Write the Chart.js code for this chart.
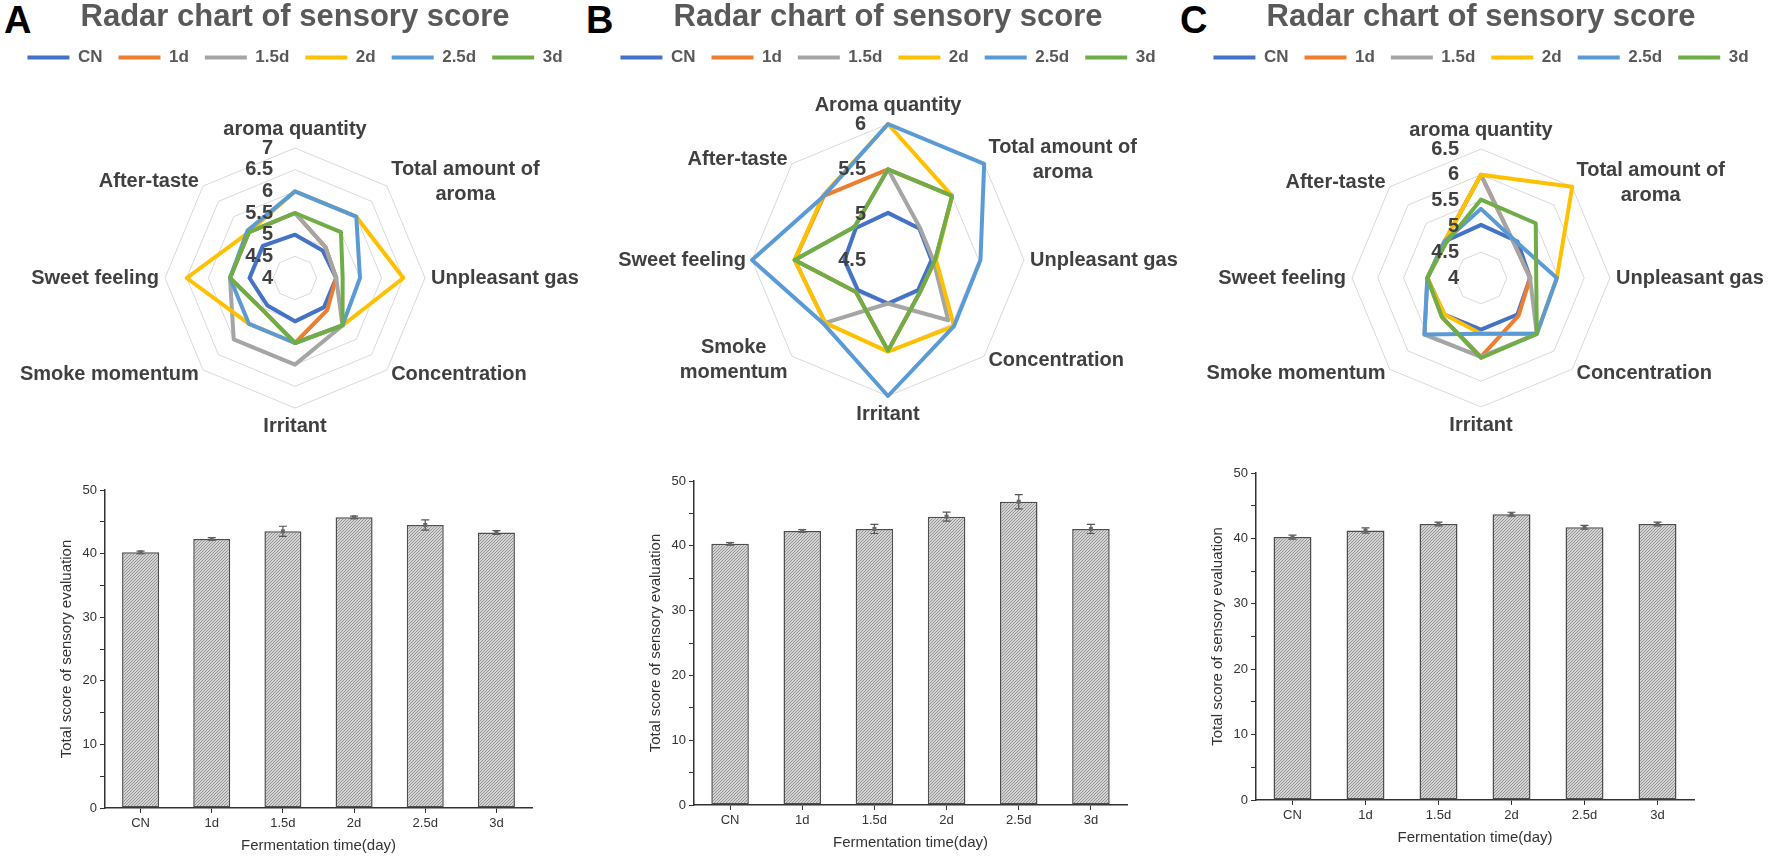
<!DOCTYPE html>
<html>
<head>
<meta charset="utf-8">
<script src="https://cdn.jsdelivr.net/npm/chart.js@4.4.1/dist/chart.umd.min.js"></script>
<style>
  html, body { margin: 0; padding: 0; background: #fff; }
  #fig { position: relative; width: 1772px; height: 859px; overflow: hidden; background: #fff; }
  .letter { position: absolute; font: bold 38px Arial, "Liberation Sans", sans-serif; line-height: 38px; color: #000; }
  canvas { position: absolute; }
</style>
</head>
<body>
<div id="fig">
  <div class="letter" style="left:4px;top:1px">A</div>
  <div class="letter" style="left:586px;top:1px">B</div>
  <div class="letter" style="left:1180px;top:1px">C</div>
  <canvas id="radarA"></canvas>
  <canvas id="radarB"></canvas>
  <canvas id="radarC"></canvas>
  <canvas id="barA"></canvas>
  <canvas id="barB"></canvas>
  <canvas id="barC"></canvas>
</div>
<script>
// groups (fermentation time) and attributes
const groups = ['CN', '1d', '1.5d', '2d', '2.5d', '3d'];
const groupColors = ['#4472C4', '#ED7D31', '#A5A5A5', '#FFC000', '#5B9BD5', '#70AD47'];

const labelsA = ['aroma quantity', ['Total amount of', 'aroma'], 'Unpleasant gas', 'Concentration', 'Irritant', 'Smoke momentum', 'Sweet feeling', 'After-taste'];
const labelsB = ['Aroma quantity', ['Total amount of', 'aroma'], 'Unpleasant gas', 'Concentration', 'Irritant', ['Smoke', 'momentum'], 'Sweet feeling', 'After-taste'];
const labelsC = ['aroma quantity', ['Total amount of', 'aroma'], 'Unpleasant gas', 'Concentration', 'Irritant', 'Smoke momentum', 'Sweet feeling', 'After-taste'];

// radar scores, one row per group (CN, 1d, 1.5d, 2d, 2.5d, 3d)
const radarA = [
  [5.0, 4.9, 4.95, 4.95, 5.0, 4.9, 5.05, 5.05],
  [5.5, 5.0, 4.95, 5.05, 5.5, 5.05, 5.5, 5.5],
  [5.5, 5.0, 4.95, 5.55, 6.0, 6.0, 5.5, 5.5],
  [6.0, 6.0, 6.5, 5.55, 5.5, 5.5, 6.5, 5.5],
  [6.0, 6.0, 5.5, 5.55, 5.5, 5.5, 5.5, 5.55],
  [5.5, 5.5, 5.1, 5.55, 5.5, 5.05, 5.5, 5.5]
];
const radarB = [
  [5.02, 4.99, 4.98, 4.97, 4.98, 4.97, 4.98, 5.0],
  [5.5, 5.5, 5.02, 5.0, 5.5, 5.0, 5.53, 5.5],
  [5.5, 5.0, 5.0, 5.44, 4.98, 5.48, 5.53, 5.02],
  [6.0, 5.5, 5.03, 5.53, 5.51, 5.48, 5.53, 5.51],
  [6.0, 6.0, 5.52, 5.53, 6.0, 5.5, 6.0, 5.5],
  [5.5, 5.5, 5.02, 5.0, 5.5, 5.0, 5.53, 5.02]
];
const radarC = [
  [5.03, 5.0, 4.95, 5.0, 5.0, 5.0, 5.04, 5.0],
  [6.0, 4.92, 4.95, 5.03, 5.53, 5.07, 5.04, 5.0],
  [6.0, 4.92, 4.95, 5.53, 5.53, 5.55, 5.04, 5.0],
  [6.0, 6.5, 5.47, 5.53, 5.08, 5.0, 5.04, 5.0],
  [5.34, 4.98, 5.47, 5.53, 5.08, 5.55, 5.04, 5.0],
  [5.52, 5.5, 5.07, 5.53, 5.55, 5.07, 5.04, 4.96]
];

// total sensory scores and error
const totalA = [40.2, 42.3, 43.5, 45.7, 44.5, 43.3];
const errA = [0.2, 0.2, 0.8, 0.2, 0.8, 0.3];
const totalB = [40.3, 42.3, 42.6, 44.5, 46.8, 42.6];
const errB = [0.2, 0.2, 0.7, 0.7, 1.1, 0.7];
const totalC = [40.2, 41.2, 42.2, 43.7, 41.7, 42.2];
const errC = [0.3, 0.4, 0.3, 0.3, 0.3, 0.3];

Chart.defaults.font.family = 'Arial, "Liberation Sans", sans-serif';
Chart.defaults.animation = false;

function place(id, left, top, w, h) {
  const c = document.getElementById(id);
  c.width = w;
  c.height = h;
  c.style.left = left + 'px';
  c.style.top = top + 'px';
  return c;
}

// extra room under the legend
const legendGap = {
  id: 'legendGap',
  beforeInit(chart, args, opts) {
    const fit = chart.legend.fit;
    chart.legend.fit = function () {
      fit.bind(chart.legend)();
      this.height += opts.gap || 0;
    };
  }
};

// axis names and tick values like the excel radar
const radarText = {
  id: 'radarText',
  afterDatasetsDraw(chart, args, opts) {
    const r = chart.scales.r;
    const ctx = chart.ctx;
    const lh = 25;
    ctx.save();
    ctx.fillStyle = '#404040';
    ctx.font = 'bold 20px Arial, "Liberation Sans", sans-serif';
    ctx.textBaseline = 'middle';
    ctx.textAlign = 'center';
    chart.data.labels.forEach((label, i) => {
      const lines = [].concat(label);
      const p = r.getPointPosition(i, r.drawingArea + 6);
      const a = r.getIndexAngle(i);
      const sx = Math.sin(a), sy = -Math.cos(a);
      const w = Math.max(...lines.map(t => ctx.measureText(t).width));
      const h = lines.length * lh;
      let left = p.x - w / 2;
      if (sx > 0.1) left = p.x;
      else if (sx < -0.1) left = p.x - w;
      let top = p.y - h / 2;
      if (sy < -0.9) top = p.y - h;
      else if (sy > 0.9) top = p.y;
      lines.forEach((t, k) => ctx.fillText(t, left + w / 2, top + lh * (k + 0.5)));
    });
    ctx.textAlign = 'right';
    r.ticks.forEach(t => {
      const y = r.yCenter - r.getDistanceFromCenterForValue(t.value);
      ctx.fillText(String(t.value), r.xCenter - 22, y);
    });
    ctx.restore();
  }
};

function radarChart(id, labels, rows, min, max, gap, bottom) {
  return new Chart(document.getElementById(id), {
    type: 'radar',
    data: {
      labels: labels,
      datasets: groups.map((g, k) => ({
        label: g,
        data: rows[k],
        borderColor: groupColors[k],
        backgroundColor: groupColors[k],
        borderWidth: 4,
        borderJoinStyle: 'round',
        pointRadius: 0,
        fill: false,
        order: groups.length - k
      }))
    },
    options: {
      responsive: false,
      layout: { padding: { bottom: bottom } },
      scales: {
        r: {
          min: min,
          max: max,
          ticks: { stepSize: 0.5, display: false },
          pointLabels: { display: false },
          grid: { color: '#d9d9d9', lineWidth: 1 },
          angleLines: { display: false }
        }
      },
      plugins: {
        title: {
          display: true,
          text: 'Radar chart of sensory score',
          color: '#595959',
          font: { size: 31, weight: 'bold', lineHeight: 1 },
          padding: { top: 2, bottom: 0 }
        },
        legend: {
          position: 'top',
          labels: {
            usePointStyle: true,
            pointStyle: 'line',
            pointStyleWidth: 42,
            color: '#595959',
            font: { size: 17, weight: 'bold' },
            padding: 16,
            sort: (a, b) => a.datasetIndex - b.datasetIndex
          }
        },
        legendGap: { gap: gap },
        tooltip: { enabled: false }
      }
    },
    plugins: [legendGap, radarText]
  });
}

// hatched fill of the bars
function hatch() {
  const c = document.createElement('canvas');
  c.width = 3;
  c.height = 3;
  const g = c.getContext('2d');
  g.fillStyle = '#d4d4d4';
  g.fillRect(0, 0, 3, 3);
  g.strokeStyle = '#8c8c8c';
  g.lineWidth = 0.9;
  g.beginPath();
  g.moveTo(0, 3); g.lineTo(3, 0);
  g.moveTo(-1, 1); g.lineTo(1, -1);
  g.moveTo(2, 4); g.lineTo(4, 2);
  g.stroke();
  return g.createPattern(c, 'repeat');
}

const errorBars = {
  id: 'errorBars',
  afterDatasetsDraw(chart, args, opts) {
    const ctx = chart.ctx;
    const y = chart.scales.y;
    const vals = chart.data.datasets[0].data;
    ctx.save();
    ctx.strokeStyle = '#555';
    ctx.fillStyle = '#666';
    ctx.lineWidth = 1.2;
    chart.getDatasetMeta(0).data.forEach((bar, i) => {
      const hi = y.getPixelForValue(vals[i] + opts.values[i]);
      const lo = y.getPixelForValue(vals[i] - opts.values[i]);
      const mid = y.getPixelForValue(vals[i]);
      ctx.beginPath();
      ctx.moveTo(bar.x, hi); ctx.lineTo(bar.x, lo);
      ctx.moveTo(bar.x - 4, hi); ctx.lineTo(bar.x + 4, hi);
      ctx.moveTo(bar.x - 4, lo); ctx.lineTo(bar.x + 4, lo);
      ctx.stroke();
      ctx.fillRect(bar.x - 2, mid - 2, 4, 4);
    });
    ctx.restore();
  }
};

function barChart(id, values, errs) {
  const axisColor = '#333';
  return new Chart(document.getElementById(id), {
    type: 'bar',
    data: {
      labels: groups,
      datasets: [{
        data: values,
        backgroundColor: hatch(),
        borderColor: '#4d4d4d',
        borderWidth: 1.5,
        borderSkipped: false,
        barPercentage: 0.52,
        categoryPercentage: 1
      }]
    },
    options: {
      responsive: false,
      layout: { padding: { top: 12, right: 18, bottom: 0, left: 0 } },
      plugins: {
        legend: { display: false },
        tooltip: { enabled: false },
        errorBars: { values: errs }
      },
      scales: {
        x: {
          grid: { drawOnChartArea: false, offset: false, tickLength: 5, color: axisColor },
          border: { color: axisColor, width: 1.5 },
          ticks: { color: axisColor, font: { size: 13 }, padding: 3 },
          title: { display: true, text: 'Fermentation time(day)', color: axisColor, font: { size: 15 }, padding: { top: 4, bottom: 4 } },
          afterFit: s => { s.height = 51; }
        },
        y: {
          min: 0,
          max: 50,
          grid: { drawOnChartArea: false, tickLength: 5, color: axisColor },
          border: { color: axisColor, width: 1.5 },
          ticks: { stepSize: 5, color: axisColor, font: { size: 13 }, padding: 3, callback: v => (v % 10 === 0 ? v : '') },
          title: { display: true, text: 'Total score of sensory evaluation', color: axisColor, font: { size: 15 }, padding: { top: 4, bottom: 4 } },
          afterFit: s => { s.width = 51; }
        }
      }
    },
    plugins: [errorBars]
  });
}

place('radarA', 0, 0, 590, 440);
place('radarB', 593, 0, 590, 440);
place('radarC', 1186, 0, 590, 440);
place('barA', 54, 478, 496, 381);
place('barB', 643, 469, 502, 387);
place('barC', 1205, 461, 507, 390);

radarChart('radarA', labelsA, radarA, 4, 7, 72, 31);
radarChart('radarB', labelsB, radarB, 4.5, 6, 48, 43);
radarChart('radarC', labelsC, radarC, 4, 6.5, 73, 32);

barChart('barA', totalA, errA);
barChart('barB', totalB, errB);
barChart('barC', totalC, errC);
</script>
</body>
</html>
